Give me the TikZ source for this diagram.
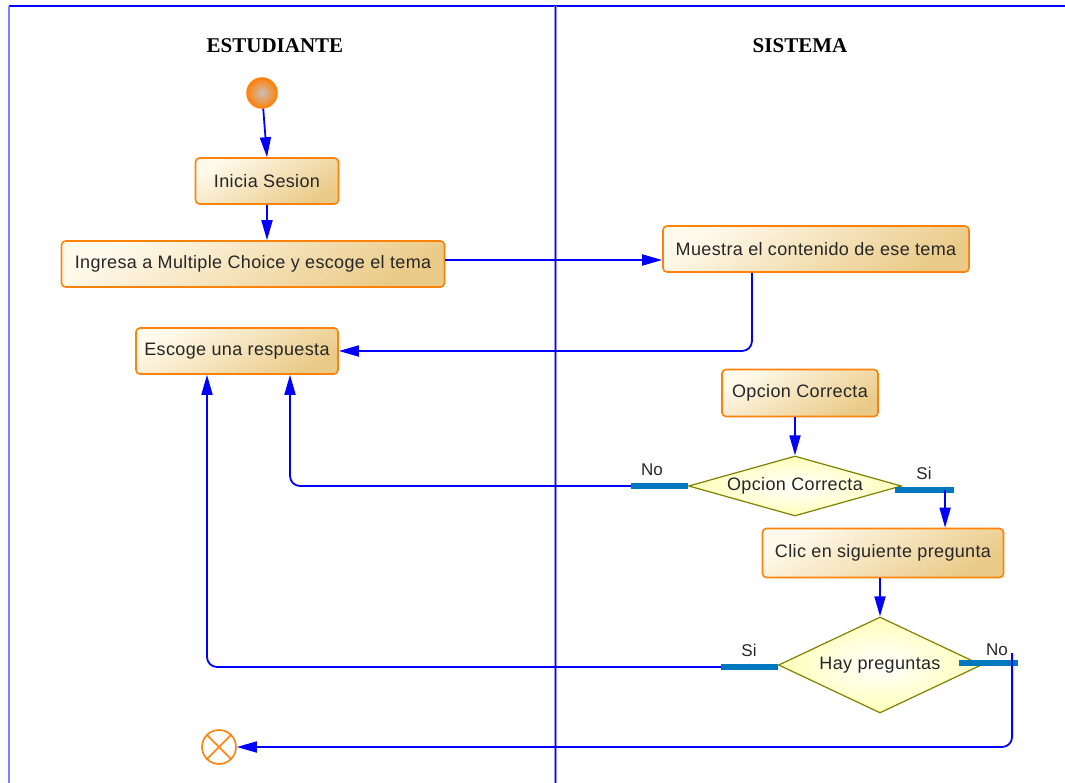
\documentclass[tikz,border=0pt]{standalone}
\usepackage{fontspec}
\setmainfont{Liberation Sans}
\newfontfamily\lanefont{Liberation Serif}
\newfontfamily\actfont[LetterSpace=2]{Liberation Sans}
\usetikzlibrary{arrows.meta,shapes.geometric}
\definecolor{flowblue}{RGB}{0,0,255}
\definecolor{barblue}{RGB}{0,120,190}
\definecolor{actorange}{RGB}{255,130,10}
\definecolor{actlight}{RGB}{255,250,236}
\definecolor{actdark}{RGB}{234,202,135}
\definecolor{decolive}{RGB}{128,128,0}
\definecolor{declight}{RGB}{255,255,185}
\begin{document}
\begin{tikzpicture}[x=1pt,y=-1pt,
  flow/.style={draw=flowblue,line width=1.8pt,rounded corners=10pt,-{Triangle[length=20pt,width=11pt]}},
  act/.style={rectangle,rounded corners=4pt,draw=actorange,line width=1.6pt,
    top color=actlight,bottom color=actdark,shading angle=30,
    minimum height=46pt,text=black!85,font=\actfont\fontsize{18}{20}\selectfont},
  dec/.style={diamond,draw=decolive,line width=1.2pt,inner color=white,outer color=declight,
    inner sep=0pt,text=black!85,font=\actfont\fontsize{18}{20}\selectfont},
  bar/.style={draw=barblue,line width=6pt},
  lane/.style={font=\lanefont\bfseries\fontsize{21}{24}\selectfont},
  lbl/.style={text=black!85,font=\fontsize{17}{19}\selectfont}]
  \useasboundingbox (0,0) rectangle (1065,783);
  % swimlanes
  \draw[flowblue,line width=2pt] (9,6) -- (1065,6);
  \draw[flowblue!50,line width=2.5pt] (9,6) -- (9,783);
  \draw[flowblue!40,line width=3pt] (555,6) -- (555,783);
  \draw[flowblue,line width=1pt] (555,6) -- (555,783);
  \node[lane] (estudiante) at (275,46) {ESTUDIANTE};
  \node[lane] (sistema) at (800,46) {SISTEMA};

  % actions
  \node[circle,minimum size=30pt,draw=actorange,line width=1.5pt,
    inner color={rgb,255:red,200;green,192;blue,188},outer color=actorange] (start) at (262,93) {};
  \node[act,minimum width=143pt] (inicia) at (267,181) {Inicia Sesion};
  \node[act,minimum width=383pt] (ingresa) at (253,264) {Ingresa a Multiple Choice y escoge el tema};
  \node[act,minimum width=306pt] (muestra) at (816,249) {Muestra el contenido de ese tema};
  \node[act,minimum width=202pt] (escoge) at (237,351) {Escoge una respuesta};
  \node[act,minimum width=156pt,minimum height=47pt] (opcion) at (800,393) {Opcion Correcta};
  \node[dec,aspect=3.55,minimum width=213pt,minimum height=60pt] (dia1) at (795,486) {Opcion Correcta};
  \node[act,minimum width=241pt,minimum height=49pt] (clic) at (883,553) {Clic en siguiente pregunta};
  \node[dec,aspect=2.1,minimum width=203pt,minimum height=96pt] (dia2) at (880,665) {Hay preguntas};
  \node[circle,minimum size=34pt,draw=actorange,line width=1.6pt,fill=white] (stop) at (219,747) {};
  \draw[actorange,line width=1.6pt] (stop.45) -- (stop.225) (stop.135) -- (stop.-45);

  % guards
  \draw[bar] (dia1.west) -- ++(-57,0) coordinate (no1);
  \draw[bar] ([xshift=-7pt,yshift=-4pt]dia1.east) -- ++(59,0) coordinate (si1);
  \draw[bar] ([yshift=-2pt]dia2.west) -- ++(-57,0) coordinate (si2);
  \draw[bar] ([xshift=-23pt,yshift=2pt]dia2.east) -- ++(59,0) coordinate (no2);
  \node[lbl] (no1lbl) at (652,470) {No};
  \node[lbl] (si1lbl) at (924,473) {Si};
  \node[lbl] (si2lbl) at (749,650) {Si};
  \node[lbl] (no2lbl) at (997,650) {No};

  % flows
  \draw[flow] (start) -- (inicia.north);
  \draw[flow] (inicia.south) -- (inicia.south |- ingresa.north);
  \draw[flow] ([yshift=4pt]ingresa.east) -- ([yshift=-11pt]muestra.west);
  \draw[flow] ([xshift=-64pt]muestra.south) |- (escoge.east);
  \draw[flow] (opcion.south -| dia1.north) -- (dia1.north);
  \draw[flow] (no1) -| ([xshift=53pt]escoge.south);
  \draw[flow] ([xshift=-9pt]si1) -- ([xshift=-9pt]si1 |- clic.north);
  \draw[flow] (clic.south -| dia2.north) -- (dia2.north);
  \draw[flow] (si2) -| ([xshift=-30pt]escoge.south);
  \draw[flow] ([xshift=-6pt,yshift=10pt]no2) |- (stop.east);
\end{tikzpicture}
\end{document}
